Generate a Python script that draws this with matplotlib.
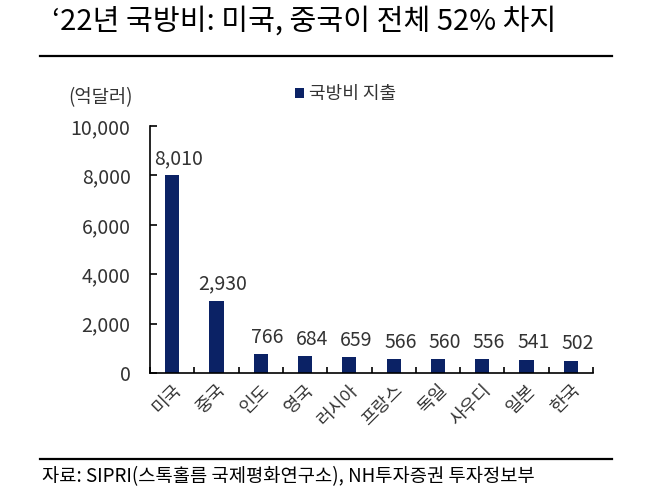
import numpy as np
import matplotlib.pyplot as plt
from matplotlib.lines import Line2D

plt.rcParams['font.family'] = ['Noto Sans CJK KR', 'DejaVu Sans']

countries = ['미국', '중국', '인도', '영국', '러시아', '프랑스', '독일', '사우디', '일본', '한국']
spending = [8010, 2930, 766, 684, 659, 566, 560, 556, 541, 502]
yticks = [0, 2000, 4000, 6000, 8000, 10000]

navy = '#0b2265'
txt = '#333333'

fig = plt.figure(figsize=(6.61, 4.93), dpi=100)
ax = fig.add_axes([150/661, 1-373/493, 443/661, 247/493])

x = np.arange(len(countries))
ax.bar(x, spending, width=0.32, color=navy, label='국방비 지출')
for xi, v in zip(x, spending):
    ax.text(xi + 0.15, v + 250, f'{v:,}', ha='center', va='bottom', fontsize=14, color=txt)

ax.set_xlim(-0.5, len(countries) - 0.5)
ax.set_ylim(0, 10000)
ax.set_yticks(yticks)
ax.set_yticklabels([f'{t:,}' for t in yticks], fontsize=14, color=txt)
ax.set_xticks(x)
ax.set_xticklabels(countries, rotation=45, ha='right', rotation_mode='anchor', fontsize=13, color=txt)
ax.tick_params(axis='x', length=0, pad=6)
ax.tick_params(axis='y', direction='in', length=5, width=1.2, pad=14)
ax.set_xticks(np.arange(len(countries) + 1) - 0.5, minor=True)
ax.tick_params(axis='x', which='minor', direction='in', length=4, width=1.2)
for s in ['top', 'right']:
    ax.spines[s].set_visible(False)
for s in ['left', 'bottom']:
    ax.spines[s].set_linewidth(1.2)
    ax.spines[s].set_color('black')

ax.legend(loc='upper left', bbox_to_anchor=(0.29, 1.23), frameon=False, fontsize=13,
          handlelength=0.5, handleheight=0.5, handletextpad=0.3, labelcolor=txt)

fig.text(68/661, 1-98/493, '(억달러)', fontsize=13.5, color=txt, va='center', ha='left')

fig.text(52/661, 1-22/493, '‘22년 국방비: 미국, 중국이 전체 52% 차지', fontsize=21,
         fontweight='medium', va='center', ha='left', color='black')
fig.add_artist(Line2D([40/661, 612/661], [1-56/493, 1-56/493], color='black', lw=1.6))
fig.add_artist(Line2D([40/661, 612/661], [1-459/493, 1-459/493], color='black', lw=1.6))
fig.text(42/661, 1-477/493, '자료: SIPRI(스톡홀름 국제평화연구소), NH투자증권 투자정보부', fontsize=13.5,
         va='center', ha='left', color='black')

fig.savefig('out.png', dpi=100)
